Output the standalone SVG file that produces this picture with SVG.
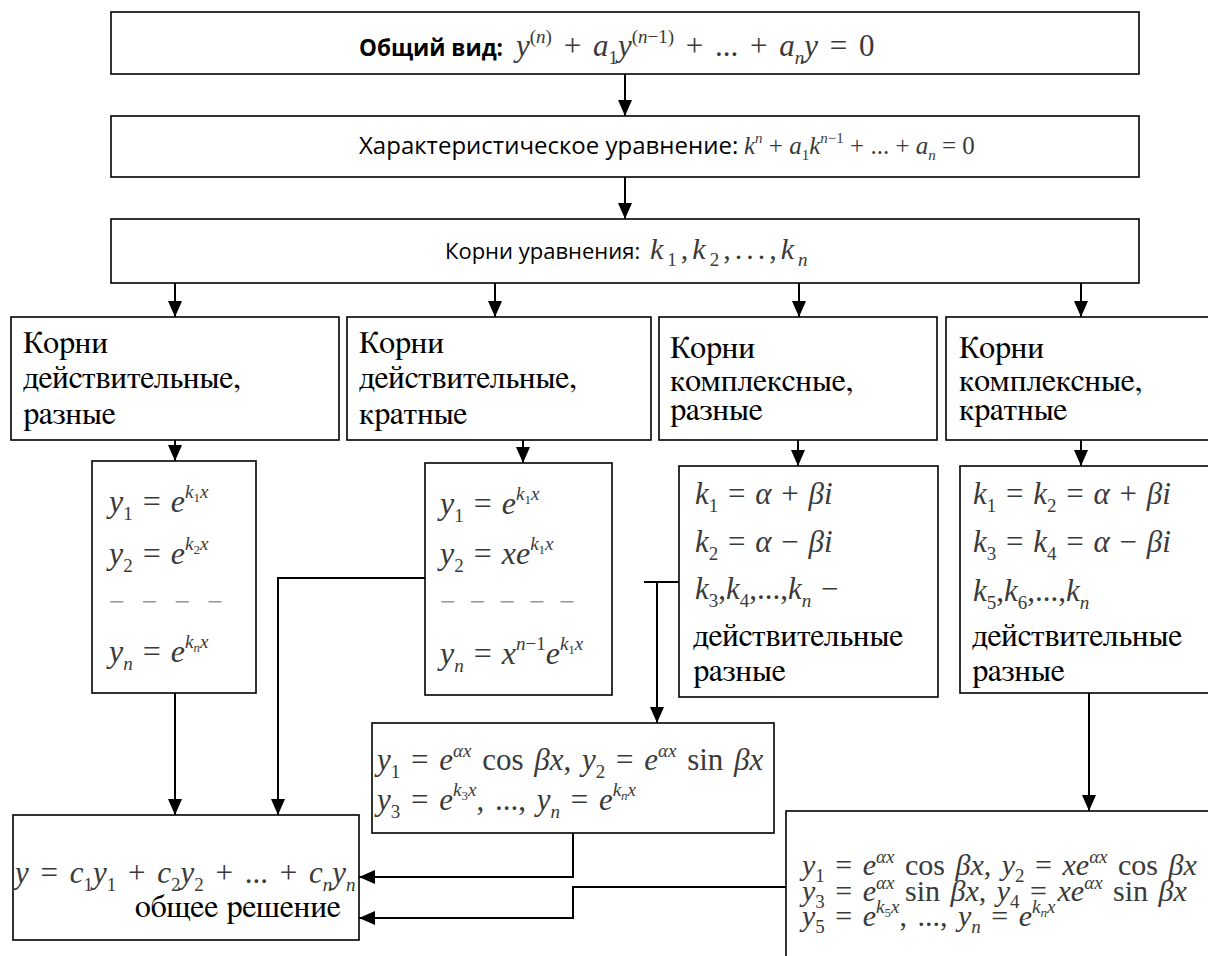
<svg xmlns="http://www.w3.org/2000/svg" width="1208" height="956" viewBox="0 0 1208 956">
<style>
.box{fill:#fff;stroke:#000;stroke-width:1.6}
.cn{fill:none;stroke:#000;stroke-width:2}
.lab{font-family:'Open Sans','Liberation Sans',sans-serif;font-size:24px;fill:#000}
.bold{font-weight:bold}
.t{font-family:'FreeSerif','DejaVu Serif',serif;font-size:32px;fill:#000}
.m{font-family:'Liberation Serif','FreeSerif',serif;font-size:32px;fill:#3a3a3a;word-spacing:2px}
.i{font-style:italic}
.s{font-size:19px}
.ss{font-size:13px}
.d{font-family:'Liberation Serif',serif;font-size:28px;fill:#999;word-spacing:10px}
</style>
<defs>
<marker id="ah" viewBox="0 0 16 14" refX="16" refY="7" markerWidth="16" markerHeight="14" orient="auto" markerUnits="userSpaceOnUse"><path d="M0,0 L16,7 L0,14 z" fill="#000"/></marker>
</defs>

<g id="connectors">
<line class="cn" x1="625" y1="74" x2="625" y2="116" marker-end="url(#ah)"/>
<line class="cn" x1="625" y1="177" x2="625" y2="219" marker-end="url(#ah)"/>
<line class="cn" x1="175" y1="283" x2="175" y2="317" marker-end="url(#ah)"/>
<line class="cn" x1="495" y1="283" x2="495" y2="317" marker-end="url(#ah)"/>
<line class="cn" x1="799" y1="283" x2="799" y2="317" marker-end="url(#ah)"/>
<line class="cn" x1="1081" y1="283" x2="1081" y2="317" marker-end="url(#ah)"/>
<line class="cn" x1="175" y1="440" x2="175" y2="461" marker-end="url(#ah)"/>
<line class="cn" x1="523" y1="440" x2="523" y2="463" marker-end="url(#ah)"/>
<line class="cn" x1="798" y1="440" x2="798" y2="466" marker-end="url(#ah)"/>
<line class="cn" x1="1081" y1="440" x2="1081" y2="466" marker-end="url(#ah)"/>
<line class="cn" x1="175" y1="693" x2="175" y2="815" marker-end="url(#ah)"/>
<polyline class="cn" points="425,578 278,578 278,815" marker-end="url(#ah)"/>
<line class="cn" x1="644" y1="582" x2="679" y2="582"/>
<line class="cn" x1="657" y1="582" x2="657" y2="723" marker-end="url(#ah)"/>
<line class="cn" x1="1089" y1="693" x2="1089" y2="811" marker-end="url(#ah)"/>
<polyline class="cn" points="573,833 573,877 359,877" marker-end="url(#ah)"/>
<polyline class="cn" points="786,887 573,887 573,918 359,918" marker-end="url(#ah)"/>
</g>

<g id="general-form">
<rect class="box" x="111" y="12" width="1028" height="62"/>
<text class="lab bold" x="359" y="56" style="font-size:22.5px">Общий вид:</text>
<text class="m" x="516" y="56" style="font-size:31px;word-spacing:4px"><tspan class="i">y</tspan><tspan class="s" dy="-13">(<tspan class="i">n</tspan>)</tspan><tspan dy="13"> + </tspan><tspan class="i">a</tspan><tspan class="s" dy="8">1</tspan><tspan class="i" dy="-8">y</tspan><tspan class="s" dy="-13">(<tspan class="i">n</tspan>−1)</tspan><tspan dy="13"> + ... + </tspan><tspan class="i">a</tspan><tspan class="s i" dy="8">n</tspan><tspan class="i" dy="-8">y</tspan><tspan> = 0</tspan></text>
</g>

<g id="char-eq">
<rect class="box" x="111" y="116" width="1028" height="61"/>
<text class="lab" x="359" y="154">Характеристическое уравнение:</text>
<text class="m" x="744" y="154" style="font-size:25px;word-spacing:0"><tspan class="i">k</tspan><tspan class="i" dy="-11" style="font-size:15px">n</tspan><tspan dy="11"> + </tspan><tspan class="i">a</tspan><tspan dy="6" style="font-size:15px">1</tspan><tspan class="i" dy="-6">k</tspan><tspan dy="-11" style="font-size:15px"><tspan class="i">n</tspan>−1</tspan><tspan dy="11"> + ... + </tspan><tspan class="i">a</tspan><tspan class="i" dy="6" style="font-size:15px">n</tspan><tspan dy="-6"> = 0</tspan></text>
</g>

<g id="roots">
<rect class="box" x="111" y="219" width="1028" height="64"/>
<text class="lab" x="445" y="259" style="font-size:22px">Корни уравнения:</text>
<text class="m" x="650" y="259" style="font-size:30px;letter-spacing:4px"><tspan class="i">k</tspan><tspan class="s" dy="7">1</tspan><tspan dy="-7">,</tspan><tspan class="i">k</tspan><tspan class="s" dy="7">2</tspan><tspan dy="-7">,...,</tspan><tspan class="i">k</tspan><tspan class="s i" dy="7">n</tspan></text>
</g>

<g id="cat-real-distinct">
<rect class="box" x="11" y="317" width="328" height="123"/>
<text class="t" x="23" y="353">Корни</text>
<text class="t" x="23" y="388">действительные,</text>
<text class="t" x="23" y="424">разные</text>
</g>
<g id="cat-real-multiple">
<rect class="box" x="347" y="317" width="304" height="123"/>
<text class="t" x="359" y="353">Корни</text>
<text class="t" x="359" y="388">действительные,</text>
<text class="t" x="359" y="424">кратные</text>
</g>
<g id="cat-complex-distinct">
<rect class="box" x="659" y="317" width="278" height="123"/>
<text class="t" x="670" y="358">Корни</text>
<text class="t" x="670" y="391">комплексные,</text>
<text class="t" x="670" y="420">разные</text>
</g>
<g id="cat-complex-multiple">
<rect class="box" x="946" y="317" width="270" height="123"/>
<text class="t" x="959" y="358">Корни</text>
<text class="t" x="959" y="391">комплексные,</text>
<text class="t" x="959" y="420">кратные</text>
</g>

<g id="sol-real-distinct">
<rect class="box" x="92" y="461" width="164" height="232"/>
<text class="m" x="109" y="512"><tspan class="i">y</tspan><tspan class="s" dy="8">1</tspan><tspan dy="-8"> = </tspan><tspan class="i">e</tspan><tspan class="s i" dy="-14">k</tspan><tspan class="ss" dy="4">1</tspan><tspan class="s i" dy="-4">x</tspan></text>
<text class="m" x="109" y="564"><tspan class="i">y</tspan><tspan class="s" dy="8">2</tspan><tspan dy="-8"> = </tspan><tspan class="i">e</tspan><tspan class="s i" dy="-14">k</tspan><tspan class="ss" dy="4">2</tspan><tspan class="s i" dy="-4">x</tspan></text>
<text class="d" x="109" y="611">− − − −</text>
<text class="m" x="109" y="662"><tspan class="i">y</tspan><tspan class="s i" dy="8">n</tspan><tspan dy="-8"> = </tspan><tspan class="i">e</tspan><tspan class="s i" dy="-14">k</tspan><tspan class="ss i" dy="4">n</tspan><tspan class="s i" dy="-4">x</tspan></text>
</g>

<g id="sol-real-multiple">
<rect class="box" x="425" y="463" width="187" height="232"/>
<text class="m" x="440" y="514"><tspan class="i">y</tspan><tspan class="s" dy="8">1</tspan><tspan dy="-8"> = </tspan><tspan class="i">e</tspan><tspan class="s i" dy="-14">k</tspan><tspan class="ss" dy="4">1</tspan><tspan class="s i" dy="-4">x</tspan></text>
<text class="m" x="440" y="564"><tspan class="i">y</tspan><tspan class="s" dy="8">2</tspan><tspan dy="-8"> = </tspan><tspan class="i">xe</tspan><tspan class="s i" dy="-14">k</tspan><tspan class="ss" dy="4">1</tspan><tspan class="s i" dy="-4">x</tspan></text>
<text class="d" x="440" y="611" style="word-spacing:7px">− − − − −</text>
<text class="m" x="440" y="664"><tspan class="i">y</tspan><tspan class="s i" dy="8">n</tspan><tspan dy="-8"> = </tspan><tspan class="i">x</tspan><tspan class="s" dy="-14"><tspan class="i">n</tspan>−1</tspan><tspan class="i" dy="14">e</tspan><tspan class="s i" dy="-14">k</tspan><tspan class="ss" dy="4">1</tspan><tspan class="s i" dy="-4">x</tspan></text>
</g>

<g id="roots-complex-distinct">
<rect class="box" x="679" y="466" width="259" height="231"/>
<text class="m" x="695" y="504" style="font-size:31px"><tspan class="i">k</tspan><tspan class="s" dy="8">1</tspan><tspan dy="-8"> = </tspan><tspan class="i">α</tspan><tspan> + </tspan><tspan class="i">βi</tspan></text>
<text class="m" x="695" y="552" style="font-size:31px"><tspan class="i">k</tspan><tspan class="s" dy="8">2</tspan><tspan dy="-8"> = </tspan><tspan class="i">α</tspan><tspan> − </tspan><tspan class="i">βi</tspan></text>
<text class="m" x="695" y="599" style="font-size:31px"><tspan class="i">k</tspan><tspan class="s" dy="8">3</tspan><tspan dy="-8">,</tspan><tspan class="i">k</tspan><tspan class="s" dy="8">4</tspan><tspan dy="-8">,...,</tspan><tspan class="i">k</tspan><tspan class="s i" dy="8">n</tspan><tspan dy="-8"> −</tspan></text>
<text class="t" x="693" y="646">действительные</text>
<text class="t" x="693" y="681">разные</text>
</g>

<g id="roots-complex-multiple">
<rect class="box" x="960" y="466" width="256" height="227"/>
<text class="m" x="973" y="504" style="font-size:31px"><tspan class="i">k</tspan><tspan class="s" dy="8">1</tspan><tspan dy="-8"> = </tspan><tspan class="i">k</tspan><tspan class="s" dy="8">2</tspan><tspan dy="-8"> = </tspan><tspan class="i">α</tspan><tspan> + </tspan><tspan class="i">βi</tspan></text>
<text class="m" x="973" y="552" style="font-size:31px"><tspan class="i">k</tspan><tspan class="s" dy="8">3</tspan><tspan dy="-8"> = </tspan><tspan class="i">k</tspan><tspan class="s" dy="8">4</tspan><tspan dy="-8"> = </tspan><tspan class="i">α</tspan><tspan> − </tspan><tspan class="i">βi</tspan></text>
<text class="m" x="973" y="601" style="font-size:31px"><tspan class="i">k</tspan><tspan class="s" dy="8">5</tspan><tspan dy="-8">,</tspan><tspan class="i">k</tspan><tspan class="s" dy="8">6</tspan><tspan dy="-8">,...,</tspan><tspan class="i">k</tspan><tspan class="s i" dy="8">n</tspan></text>
<text class="t" x="972" y="646">действительные</text>
<text class="t" x="972" y="681">разные</text>
</g>

<g id="sol-complex-distinct">
<rect class="box" x="372" y="723" width="402" height="110"/>
<text class="m" x="377" y="770" style="font-size:31px;word-spacing:3px"><tspan class="i">y</tspan><tspan class="s" dy="8">1</tspan><tspan dy="-8"> = </tspan><tspan class="i">e</tspan><tspan class="s i" dy="-13">αx</tspan><tspan dy="13"> cos </tspan><tspan class="i">βx</tspan><tspan>, </tspan><tspan class="i">y</tspan><tspan class="s" dy="8">2</tspan><tspan dy="-8"> = </tspan><tspan class="i">e</tspan><tspan class="s i" dy="-13">αx</tspan><tspan dy="13"> sin </tspan><tspan class="i">βx</tspan></text>
<text class="m" x="377" y="810" style="font-size:31px;word-spacing:3px"><tspan class="i">y</tspan><tspan class="s" dy="8">3</tspan><tspan dy="-8"> = </tspan><tspan class="i">e</tspan><tspan class="s i" dy="-14">k</tspan><tspan class="ss" dy="4">3</tspan><tspan class="s i" dy="-4">x</tspan><tspan dy="14">, ..., </tspan><tspan class="i">y</tspan><tspan class="s i" dy="8">n</tspan><tspan dy="-8"> = </tspan><tspan class="i">e</tspan><tspan class="s i" dy="-14">k</tspan><tspan class="ss i" dy="4">n</tspan><tspan class="s i" dy="-4">x</tspan></text>
</g>

<g id="sol-complex-multiple">
<rect class="box" x="786" y="811" width="430" height="160"/>
<text class="m" x="802" y="875" style="font-size:30px;word-spacing:3px"><tspan class="i">y</tspan><tspan class="s" dy="7">1</tspan><tspan dy="-7"> = </tspan><tspan class="i">e</tspan><tspan class="s i" dy="-12">αx</tspan><tspan dy="12"> cos </tspan><tspan class="i">βx</tspan><tspan>, </tspan><tspan class="i">y</tspan><tspan class="s" dy="7">2</tspan><tspan dy="-7"> = </tspan><tspan class="i">xe</tspan><tspan class="s i" dy="-12">αx</tspan><tspan dy="12"> cos </tspan><tspan class="i">βx</tspan></text>
<text class="m" x="802" y="901" style="font-size:30px;word-spacing:3px"><tspan class="i">y</tspan><tspan class="s" dy="7">3</tspan><tspan dy="-7"> = </tspan><tspan class="i">e</tspan><tspan class="s i" dy="-12">αx</tspan><tspan dy="12"> sin </tspan><tspan class="i">βx</tspan><tspan>, </tspan><tspan class="i">y</tspan><tspan class="s" dy="7">4</tspan><tspan dy="-7"> = </tspan><tspan class="i">xe</tspan><tspan class="s i" dy="-12">αx</tspan><tspan dy="12"> sin </tspan><tspan class="i">βx</tspan></text>
<text class="m" x="802" y="926" style="font-size:30px;word-spacing:3px"><tspan class="i">y</tspan><tspan class="s" dy="7">5</tspan><tspan dy="-7"> = </tspan><tspan class="i">e</tspan><tspan class="s i" dy="-13">k</tspan><tspan class="ss" dy="4">5</tspan><tspan class="s i" dy="-4">x</tspan><tspan dy="13">, ...,  </tspan><tspan class="i">y</tspan><tspan class="s i" dy="7">n</tspan><tspan dy="-7"> = </tspan><tspan class="i">e</tspan><tspan class="s i" dy="-13">k</tspan><tspan class="ss i" dy="4">n</tspan><tspan class="s i" dy="-4">x</tspan></text>
</g>

<g id="general-solution">
<rect class="box" x="13" y="815" width="346" height="125"/>
<text class="m" x="15" y="883" style="font-size:31px;word-spacing:4px"><tspan class="i">y</tspan><tspan> = </tspan><tspan class="i">c</tspan><tspan class="s" dy="8">1</tspan><tspan class="i" dy="-8">y</tspan><tspan class="s" dy="8">1</tspan><tspan dy="-8"> + </tspan><tspan class="i">c</tspan><tspan class="s" dy="8">2</tspan><tspan class="i" dy="-8">y</tspan><tspan class="s" dy="8">2</tspan><tspan dy="-8"> + ... + </tspan><tspan class="i">c</tspan><tspan class="s i" dy="8">n</tspan><tspan class="i" dy="-8">y</tspan><tspan class="s i" dy="8">n</tspan></text>
<text class="t" x="135" y="917">общее решение</text>
</g>
</svg>
